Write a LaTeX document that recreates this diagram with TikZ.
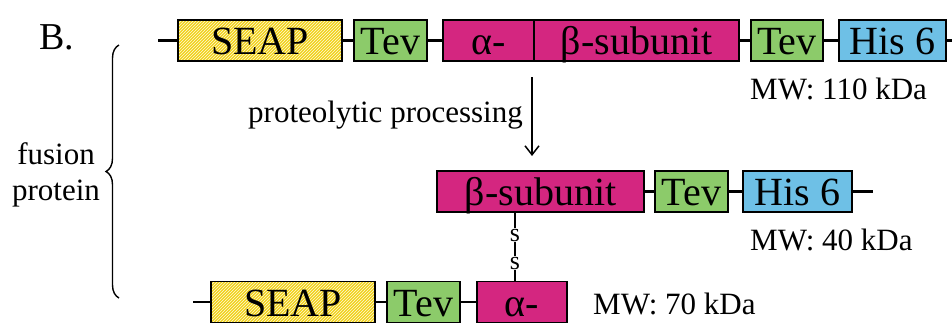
\documentclass[tikz,border=0pt]{standalone}
\usepackage{fontspec}
\setmainfont{Liberation Serif}
\usepackage{tikz}
\usetikzlibrary{patterns,arrows.meta,decorations.pathreplacing}

\definecolor{seapyellow}{RGB}{242,210,26}
\definecolor{tevgreen}{RGB}{140,203,106}
\definecolor{subpink}{RGB}{212,38,128}
\definecolor{hisblue}{RGB}{110,192,230}

\begin{document}
\begin{tikzpicture}[x=1pt,y=-1pt,
  segbox/.style={draw,line width=1.6pt,minimum height=41pt,inner sep=0pt,
    text height=28pt,text depth=0pt,font=\fontsize{40}{44}\selectfont},
  seapbox/.style={segbox,preaction={fill=seapyellow},pattern=north east lines,pattern color=white!85!seapyellow},
  tevbox/.style={segbox,fill=tevgreen},
  subbox/.style={segbox,fill=subpink},
  hisbox/.style={segbox,fill=hisblue},
  linker/.style={line width=2.6pt},
  sbond/.style={font=\fontsize{26}{26}\selectfont,inner sep=0.5pt},
  label/.style={font=\fontsize{31}{36}\selectfont,inner sep=0pt}]
  \useasboundingbox (0,0) rectangle (952,322);
  % top row: full fusion protein
  \node[seapbox,minimum width=164pt] (seapA) at (260,40.5) {SEAP};
  \node[tevbox,minimum width=73pt] (tevA) at (390.5,40.5) {Tev};
  \node[subbox,minimum width=91pt] (alphaA) at (488.5,40.5) {α-};
  \node[subbox,minimum width=205pt] (betaA) at (636.5,40.5) {β-subunit};
  \node[tevbox,minimum width=72pt] (tevB) at (787,40.5) {Tev};
  \node[hisbox,minimum width=107pt] (hisA) at (892.5,40.5) {His 6};
  \coordinate (startA) at (158,40.5);
  \coordinate (endA) at (952,40.5);
  \draw[linker] (startA) -- (seapA.west);
  \draw[linker] (seapA.east) -- (tevA.west);
  \draw[linker] (tevA.east) -- (alphaA.west);
  \draw[linker] (betaA.east) -- (tevB.west);
  \draw[linker] (tevB.east) -- (hisA.west);
  \draw[linker] (hisA.east) -- (endA);
  \node[label,anchor=west] (mwA) at (750,89) {MW: 110 kDa};
  % cleavage
  \coordinate (cutTop) at (532,77);
  \coordinate (cutBot) at (532,156);
  \draw[line width=1.5pt,-{Straight Barb[length=9pt,width=14pt,line width=1.5pt]}] (cutTop) -- (cutBot);
  \node[label,anchor=east] (proc) at (523,115) {proteolytic processing};
  % middle row: beta part
  \node[subbox,minimum width=207pt] (betaB) at (540.5,191.5) {β-subunit};
  \node[tevbox,minimum width=73pt] (tevC) at (691.5,191.5) {Tev};
  \node[hisbox,minimum width=109pt] (hisB) at (797.5,191.5) {His 6};
  \coordinate (endB) at (873,191.5);
  \draw[linker] (betaB.east) -- (tevC.west);
  \draw[linker] (tevC.east) -- (hisB.west);
  \draw[linker] (hisB.east) -- (endB);
  \node[label,anchor=west] (mwB) at (750,240) {MW: 40 kDa};
  % bottom row: alpha part
  \node[seapbox,minimum width=164pt] (seapB) at (293,302) {SEAP};
  \node[tevbox,minimum width=73pt] (tevD) at (423.5,302) {Tev};
  \node[subbox,minimum width=90pt] (alphaB) at (522,302) {α-};
  \coordinate (startC) at (193,302);
  \draw[linker] (startC) -- (seapB.west);
  \draw[linker] (seapB.east) -- (tevD.west);
  \draw[linker] (tevD.east) -- (alphaB.west);
  \node[label,anchor=west] (mwC) at (593,304) {MW: 70 kDa};
  % disulfide bridge
  \coordinate (ssTop) at (515,212);
  \coordinate (ssBot) at (515,281.5);
  \node[sbond] (s1) at (515,235) {s};
  \node[sbond] (s2) at (515,263) {s};
  \draw[line width=1.3pt] (ssTop) -- (s1);
  \draw[line width=1.3pt] (s1) -- (s2);
  \draw[line width=1.3pt] (s2) -- (ssBot);
  % brace and labels
  \draw[line width=1.4pt,decorate,decoration={brace,amplitude=13pt}] (119,298) -- (119,45);
  \node[label,align=center] (fusion) at (56,175) {fusion\\protein};
  \node[font=\fontsize{38}{40}\selectfont,inner sep=0pt] (partB) at (57,37) {B.};
\end{tikzpicture}
\end{document}
